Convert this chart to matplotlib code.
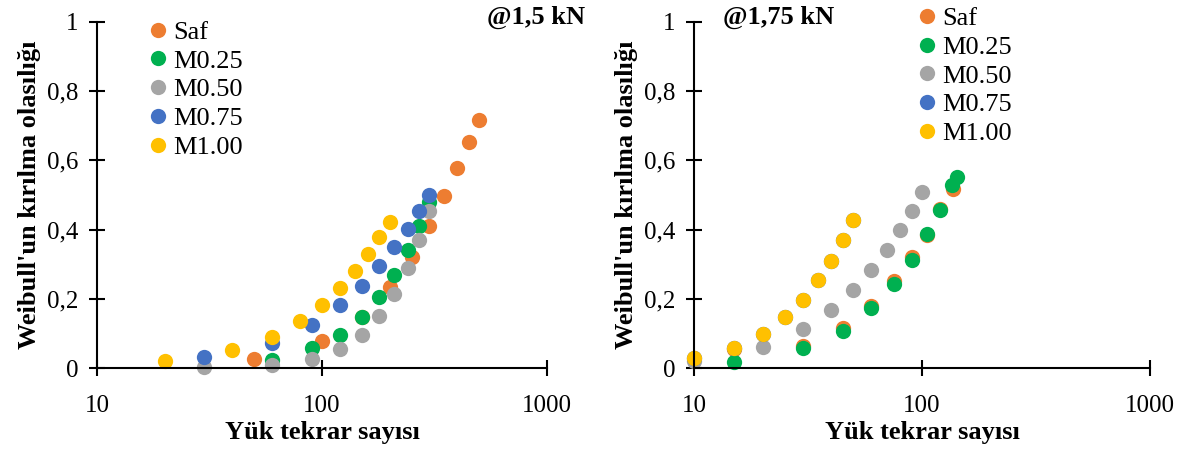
import matplotlib.pyplot as plt
from matplotlib.ticker import FixedLocator, FuncFormatter, NullLocator

plt.rcParams['font.family'] = ['Liberation Serif', 'DejaVu Serif']

series_names = ["Saf", "M0.25", "M0.50", "M0.75", "M1.00"]
colors = ["#ED7D31", "#00B050", "#A5A5A5", "#4472C4", "#FFC000"]

# @1,5 kN
saf_x_15 = [50, 100, 150, 200, 250, 300, 350, 400, 450, 500]
saf_y_15 = [0.026, 0.078, 0.148, 0.235, 0.321, 0.41, 0.497, 0.577, 0.652, 0.716]
m025_x_15 = [60, 90, 120, 150, 180, 210, 240, 270, 300]
m025_y_15 = [0.024, 0.057, 0.096, 0.146, 0.205, 0.27, 0.34, 0.41, 0.479]
m050_x_15 = [30, 60, 90, 120, 150, 180, 210, 240, 270, 300]
m050_y_15 = [0.003, 0.01, 0.027, 0.055, 0.096, 0.151, 0.214, 0.289, 0.37, 0.455]
m075_x_15 = [30, 60, 90, 120, 150, 180, 210, 240, 270, 300]
m075_y_15 = [0.031, 0.072, 0.125, 0.181, 0.237, 0.294, 0.349, 0.402, 0.453, 0.501]
m100_x_15 = [20, 40, 60, 80, 100, 120, 140, 160, 180, 200]
m100_y_15 = [0.02, 0.052, 0.091, 0.136, 0.183, 0.231, 0.281, 0.33, 0.378, 0.423]

# @1,75 kN
saf_x_175 = [15, 30, 45, 60, 75, 90, 105, 120, 136]
saf_y_175 = [0.055, 0.063, 0.115, 0.178, 0.25, 0.32, 0.385, 0.46, 0.517]
m025_x_175 = [15, 30, 45, 60, 75, 90, 105, 120, 135, 142]
m025_y_175 = [0.018, 0.057, 0.108, 0.172, 0.242, 0.313, 0.387, 0.457, 0.53, 0.553]
m050_x_175 = [10, 20, 30, 40, 50, 60, 70, 80, 90, 100]
m050_y_175 = [0.02, 0.062, 0.112, 0.168, 0.226, 0.284, 0.342, 0.399, 0.455, 0.51]
m075_x_175 = [10, 15, 20, 25, 30, 35, 40, 45, 50]
m075_y_175 = [0.028, 0.059, 0.098, 0.146, 0.197, 0.253, 0.31, 0.37, 0.429]
m100_x_175 = [10, 15, 20, 25, 30, 35, 40, 45, 50]
m100_y_175 = [0.028, 0.059, 0.098, 0.146, 0.197, 0.253, 0.31, 0.37, 0.429]

x_ticks = [10, 100, 1000]
y_ticks = [0, 0.2, 0.4, 0.6, 0.8, 1.0]

data_15 = [(saf_x_15, saf_y_15), (m025_x_15, m025_y_15), (m050_x_15, m050_y_15),
           (m075_x_15, m075_y_15), (m100_x_15, m100_y_15)]
data_175 = [(saf_x_175, saf_y_175), (m025_x_175, m025_y_175), (m050_x_175, m050_y_175),
            (m075_x_175, m075_y_175), (m100_x_175, m100_y_175)]


def comma(v, pos):
    s = "%g" % round(v, 2)
    return s.replace(".", ",")


fig = plt.figure(figsize=(11.86, 4.5), dpi=100)
ax1 = fig.add_axes([0.0818, 0.1822, 0.3794, 0.769])
ax2 = fig.add_axes([0.5852, 0.1822, 0.3845, 0.769])

for ax, data in [(ax1, data_15), (ax2, data_175)]:
    for (xs, ys), name, c in zip(data, series_names, colors):
        ax.plot(xs, ys, 'o', color=c, ms=11, mec='none', label=name, clip_on=False)
    ax.set_xscale('log')
    ax.set_xlim(10, 1000)
    ax.set_ylim(0, 1)
    ax.xaxis.set_major_locator(FixedLocator(x_ticks))
    ax.xaxis.set_minor_locator(NullLocator())
    ax.xaxis.set_major_formatter(FuncFormatter(lambda v, p: "%d" % v))
    ax.yaxis.set_major_locator(FixedLocator(y_ticks))
    ax.yaxis.set_major_formatter(FuncFormatter(comma))
    ax.spines['top'].set_visible(False)
    ax.spines['right'].set_visible(False)
    for s in ['left', 'bottom']:
        ax.spines[s].set_linewidth(1.5)
    ax.tick_params(direction='inout', length=11, width=1.5, labelsize=18)
    ax.tick_params(axis='x', pad=14)
    ax.tick_params(axis='y', pad=8)
    ax.set_xlabel("Yük tekrar sayısı", fontsize=19, fontweight='bold', labelpad=3)
    ax.set_ylabel("Weibull'un kırılma olasılığı", fontsize=19, fontweight='bold', labelpad=4)

ax1.legend(loc='upper left', bbox_to_anchor=(0.076, 1.035), frameon=False, fontsize=19,
           handletextpad=0.0, labelspacing=0.2, borderaxespad=0, handlelength=1.2)
ax2.legend(loc='upper left', bbox_to_anchor=(0.452, 1.075), frameon=False, fontsize=19,
           handletextpad=0.0, labelspacing=0.2, borderaxespad=0, handlelength=1.2)

ax1.text(1.085, 1.012, "@1,5 kN", transform=ax1.transAxes, fontsize=19, fontweight='bold',
         ha='right', va='center')
ax2.text(0.063, 1.012, "@1,75 kN", transform=ax2.transAxes, fontsize=19, fontweight='bold',
         ha='left', va='center')

fig.savefig("out.png", dpi=100)
